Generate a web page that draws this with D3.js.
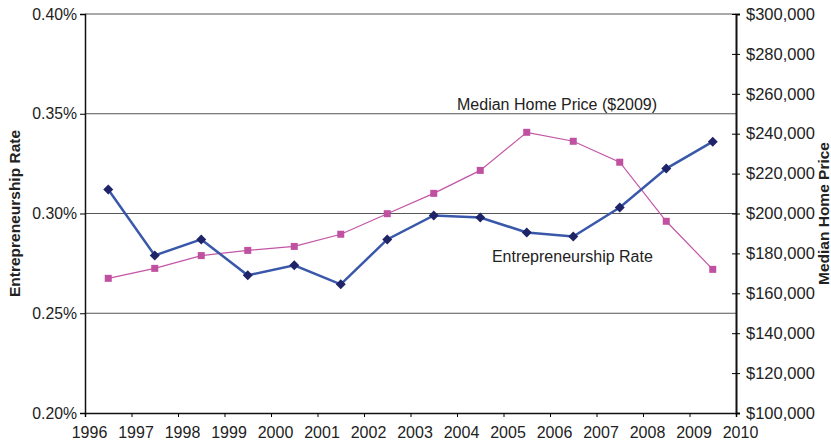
<!DOCTYPE html>
<html>
<head>
<meta charset="utf-8">
<script src="https://cdn.jsdelivr.net/npm/d3@7"></script>
<style>
  body { margin: 0; background: #fff; }
  svg text { font-family: "Liberation Sans", Arial, sans-serif; fill: #222; }
</style>
</head>
<body>
<div id="chart-area"></div>
<script>
const years = [1996.5, 1997.5, 1998.5, 1999.5, 2000.5, 2001.5, 2002.5, 2003.5, 2004.5, 2005.5, 2006.5, 2007.5, 2008.5, 2009.5];
const entrepreneurshipRate = [0.312, 0.279, 0.287, 0.269, 0.274, 0.2645, 0.287, 0.299, 0.298, 0.2905, 0.2885, 0.303, 0.3225, 0.336];
const medianHomePrice = [167500, 172500, 178900, 181500, 183500, 189600, 199900, 210100, 221600, 240700, 236200, 225700, 196100, 172000];
const leftTicks = [0.20, 0.25, 0.30, 0.35, 0.40];
const rightTicks = [100000, 120000, 140000, 160000, 180000, 200000, 220000, 240000, 260000, 280000, 300000];
const yearTicks = d3.range(1996, 2011);

const margin = {left: 85, right: 95, top: 14, bottom: 30};
const chartSize = {width: 831, height: 443};
const width = chartSize.width - margin.left - margin.right;
const height = chartSize.height - margin.top - margin.bottom;

const svg = d3.select("#chart-area").append("svg")
    .attr("width", chartSize.width)
    .attr("height", chartSize.height);

const g = svg.append("g").attr("transform", `translate(${margin.left}, ${margin.top})`);

const x = d3.scaleLinear().domain([1996, 2010]).range([0, width]);
const yLeft = d3.scaleLinear().domain([0.20, 0.40]).range([height, 0]);
const yRight = d3.scaleLinear().domain([100000, 300000]).range([height, 0]);

// gridlines
g.selectAll(".grid").data(leftTicks.slice(1))
    .enter().append("line")
    .attr("x1", 0).attr("x2", width)
    .attr("y1", d => yLeft(d)).attr("y2", d => yLeft(d))
    .attr("stroke", "#555").attr("stroke-width", 1);

// left axis
const leftAxis = g.append("g")
    .call(d3.axisLeft(yLeft).tickValues(leftTicks).tickFormat(d => d.toFixed(2) + "%").tickSize(5).tickPadding(3));
leftAxis.select(".domain").attr("stroke", "#111").attr("stroke-width", 1.5);
leftAxis.selectAll("text").attr("font-size", 15.8);

// right axis
const rightAxis = g.append("g")
    .attr("transform", `translate(${width}, 0)`)
    .call(d3.axisRight(yRight).tickValues(rightTicks).tickFormat(d => "$" + d3.format(",")(d)).tickSize(4).tickPadding(6));
rightAxis.select(".domain").attr("stroke", "#111").attr("stroke-width", 2);
rightAxis.selectAll(".tick line").attr("x1", -4);
rightAxis.selectAll("text").attr("font-size", 16.5);

// bottom axis
const bottomAxis = g.append("g")
    .attr("transform", `translate(0, ${height})`)
    .call(d3.axisBottom(x).tickValues(yearTicks).tickFormat(d3.format("d")).tickSize(4).tickPadding(10));
bottomAxis.select(".domain").attr("stroke", "#111").attr("stroke-width", 1.5);
bottomAxis.selectAll("text").attr("font-size", 16).attr("dx", 4);

// axis titles
g.append("text")
    .attr("transform", "rotate(-90)")
    .attr("x", -height / 2).attr("y", -65)
    .attr("text-anchor", "middle")
    .attr("font-size", 15.5).attr("font-weight", "bold")
    .text("Entrepreneurship Rate");

g.append("text")
    .attr("transform", "rotate(-90)")
    .attr("x", -height / 2).attr("y", width + 93)
    .attr("text-anchor", "middle")
    .attr("font-size", 15.5).attr("font-weight", "bold")
    .text("Median Home Price");

// median home price series
g.append("path")
    .datum(medianHomePrice)
    .attr("fill", "none")
    .attr("stroke", "#c455a6")
    .attr("stroke-width", 1.2)
    .attr("d", d3.line().x((d, i) => x(years[i])).y(d => yRight(d)));

g.selectAll(".sq").data(medianHomePrice)
    .enter().append("rect")
    .attr("x", (d, i) => x(years[i]) - 3.5)
    .attr("y", d => yRight(d) - 3.5)
    .attr("width", 7).attr("height", 7)
    .attr("fill", "#c050a0");

// entrepreneurship series
g.append("path")
    .datum(entrepreneurshipRate)
    .attr("fill", "none")
    .attr("stroke", "#3a58aa")
    .attr("stroke-width", 2.5)
    .attr("d", d3.line().x((d, i) => x(years[i])).y(d => yLeft(d)));

g.selectAll(".dia").data(entrepreneurshipRate)
    .enter().append("path")
    .attr("transform", (d, i) => `translate(${x(years[i])}, ${yLeft(d)})`)
    .attr("d", "M0,-5L5,0L0,5L-5,0Z")
    .attr("fill", "#1f2468");

// annotations
g.append("text")
    .attr("x", x(2004)).attr("y", yLeft(0.3519))
    .attr("font-size", 16)
    .text("Median Home Price ($2009)");

g.append("text")
    .attr("x", x(2004.75)).attr("y", yLeft(0.2755))
    .attr("font-size", 16)
    .text("Entrepreneurship Rate");
</script>
</body>
</html>
